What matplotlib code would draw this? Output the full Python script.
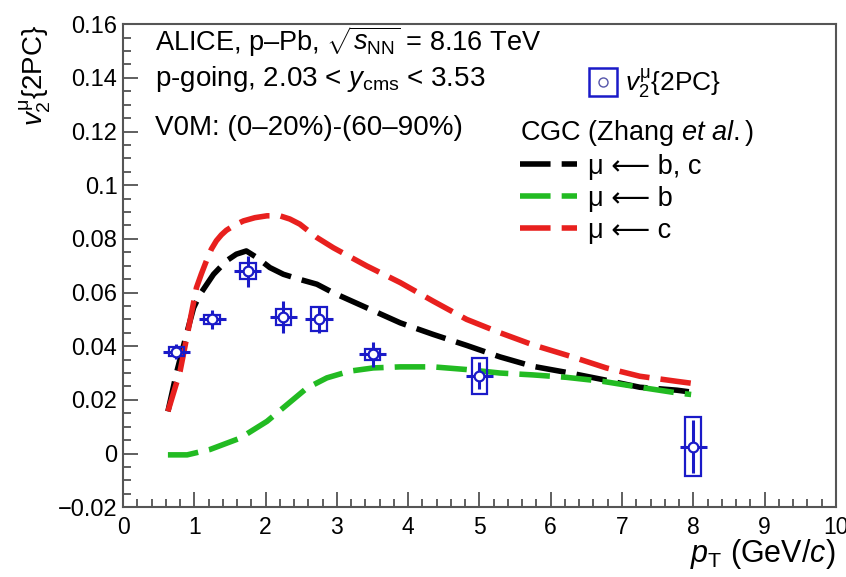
import numpy as np
import matplotlib
matplotlib.use("Agg")
import matplotlib.pyplot as plt
from matplotlib.patches import Rectangle
from matplotlib.lines import Line2D
from matplotlib.legend_handler import HandlerTuple
from matplotlib.ticker import MultipleLocator

plt.rcParams["font.family"] = ["Liberation Sans", "DejaVu Sans"]
plt.rcParams["mathtext.fontset"] = "custom"
plt.rcParams["mathtext.rm"] = "Liberation Sans"
plt.rcParams["mathtext.it"] = "Liberation Sans:italic"
plt.rcParams["mathtext.bf"] = "Liberation Sans:bold"

# Data: muon v2{2PC} in p-Pb at 8.16 TeV
pt = np.array([0.75, 1.25, 1.75, 2.25, 2.75, 3.5, 5.0, 8.0])
v2 = np.array([0.038, 0.050, 0.068, 0.051, 0.050, 0.037, 0.029, 0.0026])
stat = np.array([0.0028, 0.0035, 0.0058, 0.006, 0.005, 0.0047, 0.005, 0.010])
syst = np.array([0.0018, 0.0018, 0.003, 0.003, 0.0045, 0.002, 0.0067, 0.011])
pt_err = 0.19
box_hw = 0.11

# CGC (Zhang et al.) model curves
pt_c = [0.63, 0.80, 0.93, 1.03, 1.10, 1.17, 1.24, 1.31, 1.38, 1.45, 1.57, 1.69, 1.85,
        2.02, 2.20, 2.34, 2.48, 2.72, 2.95, 3.42, 3.89, 4.35, 4.82, 5.29, 5.75, 6.27,
        6.78, 7.25, 7.77, 7.97]
v2_c = [0.0157, 0.0306, 0.0481, 0.0618, 0.0670, 0.0718, 0.0762, 0.0793, 0.0815, 0.0832,
        0.0852, 0.0867, 0.0879, 0.0886, 0.0886, 0.0874, 0.0855, 0.0805, 0.0767, 0.0699,
        0.0637, 0.0568, 0.0500, 0.0450, 0.0405, 0.0363, 0.0319, 0.0288, 0.0269, 0.0262]

pt_bc = [0.63, 0.75, 0.89, 0.99, 1.08, 1.27, 1.45, 1.59, 1.73, 1.88, 2.06, 2.25, 2.48,
         2.72, 2.95, 3.42, 3.89, 4.35, 4.82, 5.29, 5.75, 6.27, 6.78, 7.25, 7.77, 7.97]
v2_bc = [0.0157, 0.030, 0.0444, 0.0543, 0.0593, 0.0668, 0.0718, 0.0743, 0.0755, 0.0730,
         0.0693, 0.0668, 0.0649, 0.0631, 0.0599, 0.0543, 0.0487, 0.0444, 0.0403, 0.0360,
         0.0325, 0.0300, 0.0273, 0.0247, 0.0236, 0.0229]

pt_b = [0.63, 0.9, 1.22, 1.64, 2.02, 2.30, 2.58, 2.86, 3.18, 3.51, 3.89, 4.35, 4.82,
        5.29, 5.75, 6.22, 6.73, 7.25, 7.77, 7.97]
v2_b = [-0.0005, -0.0005, 0.0015, 0.0057, 0.0120, 0.0182, 0.0244, 0.0282, 0.0307, 0.0319,
        0.0323, 0.0323, 0.0313, 0.0300, 0.0293, 0.0284, 0.0269, 0.0247, 0.0226, 0.022]

model_labels = ["\u03bc \u27f5 b, c", "\u03bc \u27f5 b", "\u03bc \u27f5 c"]

blue = "#1a1ac8"
dash = (5.5, 2.0)

fig = plt.figure(figsize=(8.46, 5.77), dpi=100)
ax = fig.add_axes([0.1454, 0.121, 0.8426, 0.837])

l_bc, = ax.plot(pt_bc, v2_bc, color="black", lw=4, dashes=dash)
l_b, = ax.plot(pt_b, v2_b, color="#22bb22", lw=4, dashes=dash)
l_c, = ax.plot(pt_c, v2_c, color="#e8201e", lw=4, dashes=dash)

# systematic boxes
for x, y, s in zip(pt, v2, syst):
    ax.add_patch(Rectangle((x - box_hw, y - s), 2 * box_hw, 2 * s, fill=False,
                           edgecolor=blue, lw=1.6, zorder=4))
ax.errorbar(pt, v2, yerr=stat, xerr=pt_err, fmt="none", ecolor=blue, elinewidth=2.2,
            capsize=0, zorder=5)
ax.plot(pt, v2, "o", ms=7, mfc="white", mec=blue, mew=1.6, zorder=6)

ax.set_xlim(0, 10)
ax.set_ylim(-0.02, 0.16)
ax.xaxis.set_major_locator(MultipleLocator(1))
ax.xaxis.set_minor_locator(MultipleLocator(0.2))
ax.yaxis.set_major_locator(MultipleLocator(0.02))
ax.yaxis.set_minor_locator(MultipleLocator(0.005))
ax.yaxis.set_major_formatter(plt.FuncFormatter(
    lambda v, p: "0" if abs(v) < 1e-9 else ("%g" % v).replace("-", "\u2212")))
ax.tick_params(which="both", direction="in", width=1.2, color="#444444")
ax.tick_params(which="major", length=11)
ax.tick_params(which="minor", length=5.5)
ax.tick_params(axis="x", labelsize=16.5, pad=6)
ax.tick_params(axis="y", labelsize=17, pad=4)
for s in ax.spines.values():
    s.set_color("#555555")
    s.set_linewidth(1.5)

ax.set_xlabel(r"$p_{\rm T}$ (GeV/$c$)", fontsize=22, ha="right")
ax.xaxis.set_label_coords(1.0, -0.062)
ax.set_ylabel(r"$v_{2}^{\mathrm{\mu}}${2PC}", fontsize=20, ha="right")
ax.yaxis.set_label_coords(-0.098, 0.998)

ax.text(0.045, 0.963, "ALICE, p\u2013Pb, " + r"$\sqrt{s_{\rm NN}}$ = 8.16 TeV",
        transform=ax.transAxes, fontsize=19.5, va="center")
ax.text(0.045, 0.886, r"p-going, 2.03 < $y_{\rm cms}$ < 3.53",
        transform=ax.transAxes, fontsize=20, va="center")
ax.text(0.045, 0.785, "V0M: (0\u201320%)-(60\u201390%)",
        transform=ax.transAxes, fontsize=20, va="center")

h_box = Line2D([], [], marker="s", ms=20, mfc="none", mec=blue, mew=1.8, ls="none")
h_circ = Line2D([], [], marker="o", ms=6.5, mfc="white", mec="#5555aa", mew=1.0, ls="none")
leg1 = ax.legend([(h_box, h_circ)], [r"$v_{2}^{\mathrm{\mu}}${2PC}"],
                 handler_map={tuple: HandlerTuple(ndivide=1, pad=0)},
                 loc="center left", bbox_to_anchor=(0.636, 0.878), frameon=False,
                 fontsize=19, handlelength=1.0, handletextpad=0.35, borderpad=0)
ax.add_artist(leg1)
ax.legend([l_bc, l_b, l_c], model_labels,
          title=r"CGC (Zhang $et\ al.$)", title_fontsize=19.5, alignment="left",
          loc="upper left", bbox_to_anchor=(0.557, 0.806), frameon=False, fontsize=19.5,
          handlelength=2.1, handletextpad=0.4, labelspacing=0.22, borderpad=0,
          borderaxespad=0)

fig.savefig("out.png", dpi=100)
